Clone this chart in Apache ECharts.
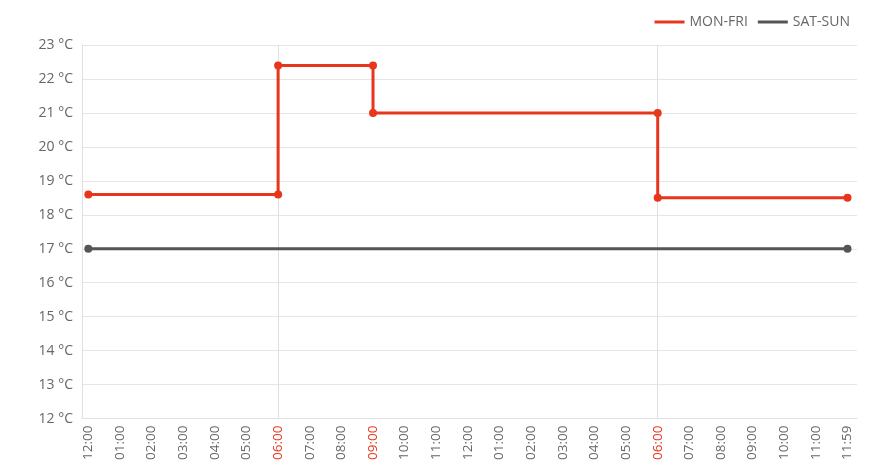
<!DOCTYPE html>
<html>
<head>
<meta charset="utf-8">
<script src="https://cdn.jsdelivr.net/npm/echarts@6/dist/echarts.min.js"></script>
<style>
  html, body { margin: 0; padding: 0; background: #fff; }
  #chart { width: 871px; height: 463px; }
</style>
</head>
<body>
<div id="chart"></div>
<script>
// hour index on the x axis, 0 = 12:00 AM, 24 = 11:59 PM
var xLabels = ['12:00', '01:00', '02:00', '03:00', '04:00', '05:00', '06:00', '07:00',
  '08:00', '09:00', '10:00', '11:00', '12:00', '01:00', '02:00', '03:00', '04:00',
  '05:00', '06:00', '07:00', '08:00', '09:00', '10:00', '11:00', '11:59'];
var highlightHours = [6, 9, 18];
var markHours = [6, 18];

var monFriHours = [0, 6, 6, 9, 9, 18, 18, 24];
var monFriTemps = [18.6, 18.6, 22.4, 22.4, 21, 21, 18.5, 18.5];
var satSunHours = [0, 24];
var satSunTemps = [17, 17];

var RED = '#e8361c';
var GRAY = '#555555';
var TEXT = '#666666';
var FONT = '"Open Sans", "Liberation Sans", sans-serif';

function pairs(xs, ys) {
  return xs.map(function (x, i) { return [x, ys[i]]; });
}

var chart = echarts.init(document.getElementById('chart'));

var option = {
  backgroundColor: '#ffffff',
  animation: false,
  textStyle: { fontFamily: FONT },
  legend: {
    top: 10,
    right: 16,
    itemWidth: 30,
    itemHeight: 3,
    itemGap: 10,
    textStyle: { color: TEXT, fontSize: 14, fontFamily: FONT },
    data: [
      { name: 'MON-FRI', icon: 'rect', itemStyle: { color: RED } },
      { name: 'SAT-SUN', icon: 'rect', itemStyle: { color: GRAY } }
    ]
  },
  grid: { left: 82, right: 14, top: 45, bottom: 43 },
  xAxis: {
    type: 'value',
    min: -0.2,
    max: 24.3,
    axisLine: { show: true, onZero: false, lineStyle: { color: '#e0e0e0' } },
    axisTick: { show: false },
    splitLine: { show: false },
    axisLabel: {
      customValues: xLabels.map(function (l, i) { return i; }),
      rotate: 90,
      margin: 7,
      fontSize: 13.5,
      fontFamily: FONT,
      color: TEXT,
      formatter: function (v) {
        var t = xLabels[v];
        return highlightHours.indexOf(v) >= 0 ? '{r|' + t + '}' : t;
      },
      rich: { r: { color: RED, fontSize: 13.5, fontFamily: FONT } }
    }
  },
  yAxis: {
    type: 'value',
    min: 12,
    max: 23,
    interval: 1,
    axisLine: { show: true, onZero: false, lineStyle: { color: '#e0e0e0' } },
    axisTick: { show: false },
    splitLine: { lineStyle: { color: '#e6e6e6' } },
    axisLabel: {
      margin: 9,
      fontSize: 14,
      fontFamily: FONT,
      color: TEXT,
      formatter: '{value} °C'
    }
  },
  series: [{
    name: 'MON-FRI',
    type: 'line',
    data: pairs(monFriHours, monFriTemps),
    symbol: 'circle',
    symbolSize: 8,
    lineStyle: { color: RED, width: 3 },
    itemStyle: { color: RED },
    z: 3,
    markLine: {
      silent: true,
      symbol: 'none',
      label: { show: false },
      lineStyle: { color: '#e0e0e0', width: 1, type: 'solid' },
      data: markHours.map(function (h) { return { xAxis: h }; }),
      z: 1
    }
  }, {
    name: 'SAT-SUN',
    type: 'line',
    data: pairs(satSunHours, satSunTemps),
    symbol: 'circle',
    symbolSize: 8,
    lineStyle: { color: GRAY, width: 3 },
    itemStyle: { color: GRAY },
    z: 2
  }]
};

chart.setOption(option, true);
</script>
</body>
</html>
